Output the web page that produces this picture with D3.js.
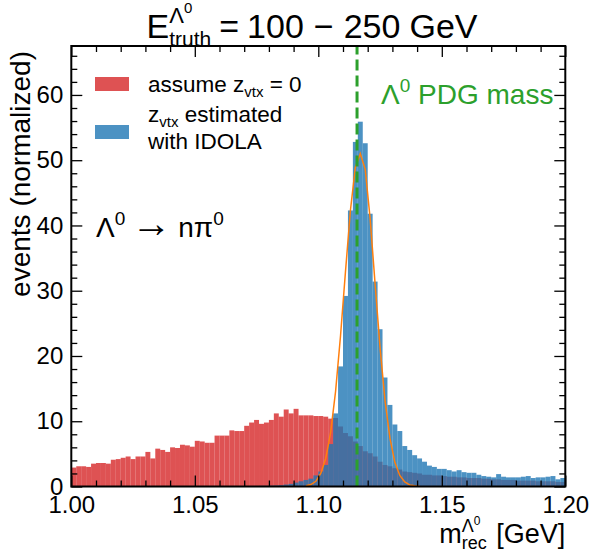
<!DOCTYPE html>
<html>
<head>
<meta charset="utf-8">
<script src="https://cdn.jsdelivr.net/npm/d3@7"></script>
<style>
  body { margin: 0; background: #fff; }
  text { font-family: "Liberation Sans", Arial, sans-serif; }
</style>
</head>
<body>
<svg id="chart"></svg>
<script>
var width = 590,
    height = 554,
    margin = {left: 71.3, right: 24.7, top: 46, bottom: 67.5};

// histogram binning: 100 bins between 1.00 and 1.20 GeV
var binStart = 1.00,
    binWidth = 0.002;

// "assume z_vtx = 0"
var redCounts = [
  2.9, 3.1, 3.1, 3.0, 3.5, 3.6, 3.6, 3.5, 4.1, 4.2,
  4.4, 4.6, 4.2, 4.6, 4.6, 5.3, 4.3, 5.8, 5.6, 5.3,
  6.0, 5.9, 6.4, 6.3, 6.1, 7.0, 6.9, 6.7, 6.7, 7.8,
  7.8, 7.8, 8.6, 8.5, 8.5, 9.3, 9.8, 10.2, 9.6, 9.8,
  10.2, 11.2, 10.7, 11.8, 11.2, 11.9, 10.9, 10.9, 10.9, 10.8,
  10.8, 10.7, 10.4, 10.5, 9.2, 8.2, 7.7, 6.9, 6.2, 5.4,
  5.1, 4.6, 3.8, 3.3, 3.1, 2.8, 2.6, 2.3, 2.2, 2.1,
  2.0, 1.8, 1.8, 1.7, 1.7, 1.6, 1.5, 1.5, 1.4, 1.4,
  1.3, 1.3, 1.3, 1.2, 1.2, 1.1, 1.1, 1.0, 1.0, 1.0,
  0.9, 0.9, 0.9, 0.9, 0.8, 0.8, 0.8, 0.8, 0.7, 0.7
];

// "z_vtx estimated with IDOLA"
var blueCounts = [
  0, 0, 0, 0, 0, 0, 0, 0, 0, 0,
  0, 0, 0, 0, 0, 0, 0, 0, 0, 0,
  0, 0, 0, 0, 0, 0, 0, 0, 0.02, 0.02,
  0.03, 0.03, 0.04, 0.05, 0.05, 0.06, 0.07, 0.08, 0.1, 0.1,
  0.12, 0.15, 0.2, 0.3, 0.4, 0.6, 0.8, 1.0, 1.2, 1.7,
  2.3, 3.3, 6.5, 11.2, 18.4, 29.2, 42.3, 52.8, 55.9, 52.6,
  41.8, 31.4, 24.1, 16.7, 12.5, 9.5, 8.5, 6.2, 5.6, 4.8,
  4.3, 3.8, 3.2, 3.0, 2.7, 2.7, 2.5, 2.3, 2.5, 2.2,
  2.1, 2.1, 1.8, 1.6, 1.5, 1.4, 1.9, 1.5, 1.4, 1.4,
  1.4, 1.5, 1.6, 1.3, 1.4, 1.4, 1.5, 1.6, 1.1, 1.3
];

// gaussian fit curve, read at bin centres
var fitMass = [1.095, 1.097, 1.099, 1.101, 1.103, 1.105, 1.107, 1.109, 1.111, 1.113,
               1.115, 1.117, 1.119, 1.121, 1.123, 1.125, 1.127, 1.129, 1.131, 1.133,
               1.135, 1.137, 1.139, 1.141];
var fitValue = [0.1, 0.3, 0.8, 2.0, 4.3, 8.3, 14.6, 23.1, 32.9, 42.3,
                48.9, 51.0, 48.6, 41.0, 31.0, 21.3, 13.2, 7.4, 3.7, 1.7,
                0.7, 0.25, 0.1, 0.03];

var pdgMass = 1.115683;

var xMajor = [1.00, 1.05, 1.10, 1.15, 1.20],
    yMajor = [0, 10, 20, 30, 40, 50, 60];
var xDomain = [1.00, 1.20],
    yDomain = [0, 67.5];

var svg = d3.select("#chart").attr("width", width).attr("height", height);

var x = d3.scaleLinear().domain(xDomain).range([margin.left, width - margin.right]);
var y = d3.scaleLinear().domain(yDomain).range([height - margin.bottom, margin.top]);

var red = "#d62728", blue = "#1f77b4";

function drawHist(counts, color) {
  svg.append("g")
    .selectAll("rect")
    .data(counts)
    .enter()
    .append("rect")
    .attr("x", function(d, i) { return x(binStart + i * binWidth); })
    .attr("width", function(d, i) { return x(binStart + (i + 1) * binWidth) - x(binStart + i * binWidth); })
    .attr("y", function(d) { return y(d); })
    .attr("height", function(d) { return y(0) - y(d); })
    .attr("fill", color)
    .attr("fill-opacity", 0.8);
}

drawHist(redCounts, red);
drawHist(blueCounts, blue);

var fitLine = d3.line()
  .x(function(d, i) { return x(fitMass[i]); })
  .y(function(d) { return y(d); });

svg.append("path")
  .attr("d", fitLine(fitValue))
  .attr("fill", "none")
  .attr("stroke", "#ff7f0e")
  .attr("stroke-width", 1.5);

svg.append("line")
  .attr("x1", x(pdgMass)).attr("x2", x(pdgMass))
  .attr("y1", y(0)).attr("y2", y(yDomain[1]))
  .attr("stroke", "#2ca02c")
  .attr("stroke-width", 3)
  .attr("stroke-dasharray", "11,5");

// axes: inward ticks on all four sides
var xMinor = d3.range(100, 121).map(function(v) { return v / 100; }).filter(function(v) { return xMajor.indexOf(v) < 0; });
var yMinor = d3.range(0, 68, 2).filter(function(v) { return v % 10 !== 0; });

function addAxis(axis, tx, ty, labels) {
  var g = svg.append("g").attr("transform", "translate(" + tx + "," + ty + ")").call(axis);
  g.select(".domain").remove();
  g.selectAll("line").attr("stroke", "#000").attr("stroke-width", 1.3);
  if (!labels) g.selectAll("text").remove();
  return g;
}

var yBottom = y(0), yTop = y(yDomain[1]), xLeft = x(xDomain[0]), xRight = x(xDomain[1]);

var xAxis = addAxis(d3.axisBottom(x).tickValues(xMajor).tickSize(-11).tickPadding(9)
  .tickFormat(d3.format(".2f")), 0, yBottom, true);
addAxis(d3.axisBottom(x).tickValues(xMinor).tickSize(-6).tickFormat(""), 0, yBottom, false);
addAxis(d3.axisTop(x).tickValues(xMajor).tickSize(-11), 0, yTop, false);
addAxis(d3.axisTop(x).tickValues(xMinor).tickSize(-6), 0, yTop, false);

var yAxis = addAxis(d3.axisLeft(y).tickValues(yMajor).tickSize(-11).tickPadding(8), xLeft, 0, true);
addAxis(d3.axisLeft(y).tickValues(yMinor).tickSize(-6).tickFormat(""), xLeft, 0, false);
addAxis(d3.axisRight(y).tickValues(yMajor).tickSize(-11), xRight, 0, false);
addAxis(d3.axisRight(y).tickValues(yMinor).tickSize(-6), xRight, 0, false);

xAxis.selectAll("text").attr("font-size", 24).attr("fill", "#000").attr("font-family", null);
yAxis.selectAll("text").attr("font-size", 24).attr("fill", "#000").attr("font-family", null);

svg.append("rect")
  .attr("x", xLeft).attr("y", yTop)
  .attr("width", xRight - xLeft).attr("height", yBottom - yTop)
  .attr("fill", "none").attr("stroke", "#000").attr("stroke-width", 2);

// text with sub/superscripts; a run with "at" starts where run[at] started
function richText(px, py, runs, anchor, color) {
  var g = svg.append("g");
  var cx = px, starts = [];
  runs.forEach(function(r, i) {
    var sx = (r.at !== undefined) ? starts[r.at] : cx;
    starts.push(sx);
    var t = g.append("text")
      .attr("x", sx).attr("y", py - (r.dy || 0))
      .attr("font-size", r.size)
      .attr("fill", color || "#000")
      .style("white-space", "pre")
      .text(r.t);
    if (r.font) t.attr("font-family", r.font);
    var w = t.node().getComputedTextLength() + (r.pad || 0);
    cx = Math.max(cx, sx + w);
  });
  var total = cx - px;
  var shift = anchor === "end" ? -total : anchor === "middle" ? -total / 2 : 0;
  g.attr("transform", "translate(" + shift + ",0)");
  return g;
}

richText(312, 38, [
  {t: "E", size: 34},
  {t: "Λ", size: 22, dy: 15},
  {t: "0", size: 15, dy: 25},
  {t: "truth", size: 21, dy: -8, at: 1, pad: 8},
  {t: "=", size: 34, pad: 8},
  {t: "100", size: 34, pad: 10},
  {t: "\u2212", size: 34, pad: 10},
  {t: "250", size: 34, pad: 9},
  {t: "GeV", size: 34}
], "middle");

richText(xRight, 543, [
  {t: "m", size: 27},
  {t: "Λ", size: 18, dy: 11},
  {t: "0", size: 12, dy: 18},
  {t: "rec", size: 18, dy: -6, at: 1, pad: 2},
  {t: " [GeV]", size: 27}
], "end");

svg.append("text")
  .attr("transform", "translate(30," + (yTop + 5) + ") rotate(-90)")
  .attr("text-anchor", "end")
  .attr("font-size", 28)
  .text("events (normalized)");

// legend
svg.append("rect").attr("x", 95).attr("y", 77).attr("width", 34).attr("height", 14)
  .attr("fill", red).attr("fill-opacity", 0.8);
svg.append("rect").attr("x", 95).attr("y", 125).attr("width", 34).attr("height", 14)
  .attr("fill", blue).attr("fill-opacity", 0.8);

richText(148, 92, [
  {t: "assume z", size: 22.5},
  {t: "vtx", size: 15, dy: -5},
  {t: " = 0", size: 22.5}
]);
richText(148, 122, [
  {t: "z", size: 22.5},
  {t: "vtx", size: 15, dy: -5},
  {t: " estimated", size: 22.5}
]);
richText(148, 149, [{t: "with IDOLA", size: 22.5}]);

richText(381, 104, [
  {t: "Λ", size: 28},
  {t: "0", size: 19, dy: 12},
  {t: " PDG mass", size: 28}
], "start", "#2ca02c");

richText(96, 237, [
  {t: "Λ", size: 28},
  {t: "0", size: 19, dy: 12, pad: 6},
  {t: "\u2192", size: 40, font: "DejaVu Sans", pad: 7},
  {t: "nπ", size: 28},
  {t: "0", size: 19, dy: 12}
]);
</script>
</body>
</html>
